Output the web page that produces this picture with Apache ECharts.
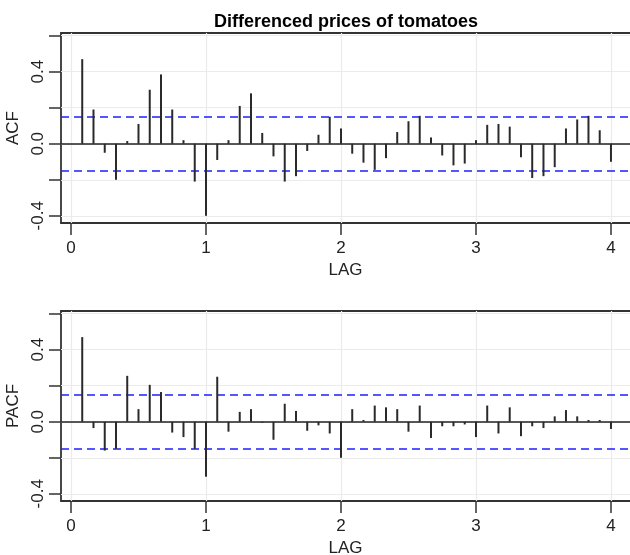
<!DOCTYPE html>
<html>
<head>
<meta charset="utf-8">
<script src="https://cdn.jsdelivr.net/npm/echarts@6/dist/echarts.min.js"></script>
<style>
  html, body { margin: 0; padding: 0; background: #fff; }
  #chart { width: 630px; height: 555px; }
</style>
</head>
<body>
<div id="chart"></div>
<script>
// lag in months (plotted as years: month / 12)
const lagMonths = [1, 2, 3, 4, 5, 6, 7, 8, 9, 10, 11, 12,
  13, 14, 15, 16, 17, 18, 19, 20, 21, 22, 23, 24,
  25, 26, 27, 28, 29, 30, 31, 32, 33, 34, 35, 36,
  37, 38, 39, 40, 41, 42, 43, 44, 45, 46, 47, 48];

const acfVals = [0.47, 0.19, -0.05, -0.20, 0.015, 0.11, 0.30, 0.385, 0.19, 0.02, -0.21, -0.40,
  -0.09, 0.02, 0.21, 0.28, 0.06, -0.07, -0.21, -0.18, -0.04, 0.05, 0.15, 0.085,
  -0.055, -0.105, -0.145, -0.08, 0.065, 0.125, 0.155, 0.035, -0.065, -0.12, -0.11, 0.02,
  0.105, 0.11, 0.095, -0.075, -0.19, -0.18, -0.13, 0.085, 0.135, 0.155, 0.075, -0.10];

const pacfVals = [0.47, -0.035, -0.16, -0.15, 0.255, 0.07, 0.205, 0.165, -0.06, -0.085, -0.15, -0.305,
  0.25, -0.055, 0.055, 0.07, -0.005, -0.10, 0.10, 0.06, -0.05, -0.02, -0.065, -0.20,
  0.07, 0.01, 0.09, 0.08, 0.07, -0.055, 0.09, -0.09, -0.025, -0.025, -0.015, -0.085,
  0.09, -0.065, 0.08, -0.08, -0.025, -0.035, 0.03, 0.065, 0.03, 0.01, 0.01, -0.04];

const confBound = 0.148;
const xTicks = [0, 1, 2, 3, 4];
const yTicks = [-0.4, -0.2, 0, 0.2, 0.4, 0.6];
const yLabels = [-0.4, 0, 0.4];

const font = 'Liberation Sans, Arial, sans-serif';
const ink = '#222';
const xMin = -0.074, xMax = 4.141;
const yMin = -0.44, yMax = 0.615;
const frame = { color: '#333', width: 1.8 };

function makeX(idx) {
  return {
    gridIndex: idx,
    type: 'value',
    position: 'bottom',
    min: xMin,
    max: xMax,
    name: 'LAG',
    nameLocation: 'middle',
    nameGap: 39,
    nameTextStyle: { fontSize: 17, color: ink, fontFamily: font },
    axisLine: { show: true, onZero: false, lineStyle: frame },
    splitLine: { show: false },
    axisTick: {
      show: true, length: 12, customValues: xTicks,
      lineStyle: { color: '#333', width: 1.5 }
    },
    axisLabel: {
      customValues: xTicks, margin: 17,
      fontSize: 17, color: ink, fontFamily: font
    }
  };
}

// top edge of the box only
function makeTop(idx) {
  return {
    gridIndex: idx,
    type: 'value',
    position: 'top',
    min: xMin,
    max: xMax,
    axisLine: { show: true, onZero: false, lineStyle: frame },
    axisTick: { show: false },
    axisLabel: { show: false },
    splitLine: { show: false }
  };
}

function makeY(idx, name) {
  return {
    gridIndex: idx,
    type: 'value',
    position: 'left',
    min: yMin,
    max: yMax,
    name: name,
    nameLocation: 'middle',
    nameGap: 32,
    nameRotate: 90,
    nameTextStyle: { fontSize: 17, color: ink, fontFamily: font },
    axisLine: { show: true, onZero: false, lineStyle: frame },
    splitLine: { show: false },
    axisTick: {
      show: true, length: 12, customValues: yTicks,
      lineStyle: { color: '#333', width: 1.5 }
    },
    axisLabel: {
      customValues: yLabels, rotate: 90, margin: 14,
      fontSize: 17, color: ink, fontFamily: font,
      formatter: v => v.toFixed(1)
    }
  };
}

function gridSeries(idx) {
  const lines = xTicks.map(v => ({ xAxis: v })).concat(yTicks.map(v => ({ yAxis: v })));
  return {
    type: 'line', xAxisIndex: idx, yAxisIndex: idx, data: [], z: 1,
    markLine: {
      silent: true, symbol: 'none', label: { show: false },
      lineStyle: { color: '#ebebeb', type: 'solid', width: 1.2 },
      data: lines
    }
  };
}

function refSeries(idx) {
  return {
    type: 'line', xAxisIndex: idx, yAxisIndex: idx, data: [], z: 3,
    markLine: {
      silent: true, symbol: 'none', label: { show: false },
      data: [
        { yAxis: confBound, lineStyle: { color: '#1f1fff', type: [8, 5], width: 1.5 } },
        { yAxis: -confBound, lineStyle: { color: '#1f1fff', type: [8, 5], width: 1.5 } },
        { yAxis: 0, lineStyle: { color: '#222', type: 'solid', width: 1.5 } }
      ]
    }
  };
}

function barSeries(idx, vals) {
  return {
    type: 'bar', xAxisIndex: idx, yAxisIndex: idx, z: 5,
    barWidth: 2,
    itemStyle: { color: '#2a2a2a' },
    data: lagMonths.map((m, i) => [m / 12, vals[i]])
  };
}

const chart = echarts.init(document.getElementById('chart'), null, { renderer: 'canvas' });
chart.setOption({
  animation: false,
  title: {
    text: 'Differenced prices of tomatoes',
    left: 209,
    top: 8,
    textStyle: { fontSize: 18, fontWeight: 'bold', color: '#000', fontFamily: font }
  },
  grid: [
    { left: 61, top: 33, width: 569, height: 190, outerBoundsMode: 'none', containLabel: false },
    { left: 61, top: 311, width: 569, height: 190, outerBoundsMode: 'none', containLabel: false }
  ],
  xAxis: [makeX(0), makeX(1), makeTop(0), makeTop(1)],
  yAxis: [makeY(0, 'ACF'), makeY(1, 'PACF')],
  series: [
    gridSeries(0), gridSeries(1),
    refSeries(0), refSeries(1),
    barSeries(0, acfVals), barSeries(1, pacfVals)
  ]
});
</script>
</body>
</html>
